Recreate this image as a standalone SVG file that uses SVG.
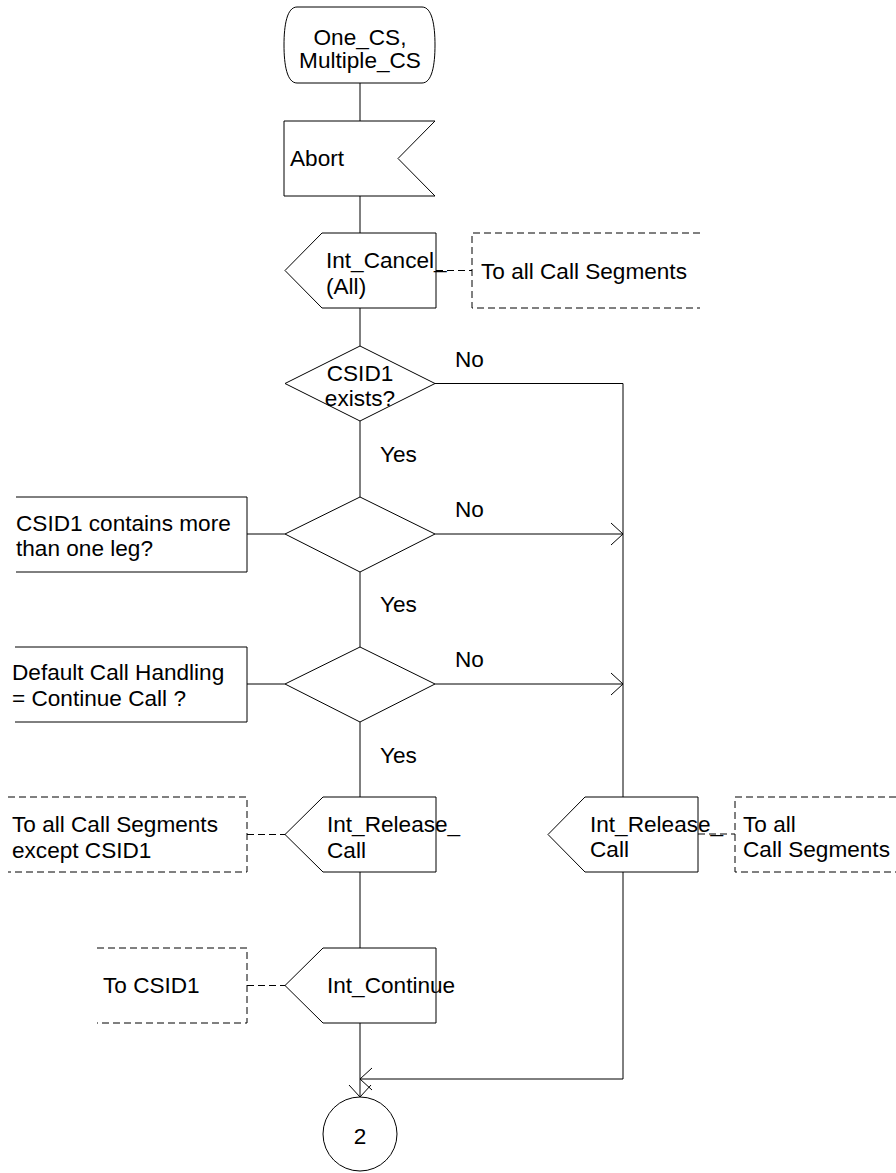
<svg xmlns="http://www.w3.org/2000/svg" width="896" height="1173" viewBox="0 0 896 1173">
<style>
  .s{fill:#fff;stroke:#000;stroke-width:1}
  .l{fill:none;stroke:#000;stroke-width:1}
  .d{fill:none;stroke:#000;stroke-width:1;stroke-dasharray:7 4}
  text{font-family:"Liberation Sans",Arial,sans-serif;font-size:22.6px;fill:#000}
  .c{text-anchor:middle}
</style>
<defs>
  <marker id="arr" viewBox="-13 -12 14 24" refX="0" refY="0" markerWidth="14" markerHeight="24" markerUnits="userSpaceOnUse" orient="auto">
    <path d="M-12,-11 L0,0 L-12,11" fill="none" stroke="#000" stroke-width="1"/>
  </marker>
</defs>
<rect width="896" height="1173" fill="#fff"/>
<g id="connectors">
  <line class="l" x1="360" y1="83" x2="360" y2="121"/>
  <line class="l" x1="360" y1="196" x2="360" y2="233"/>
  <line class="l" x1="360" y1="308" x2="360" y2="346"/>
  <line class="l" x1="360" y1="421" x2="360" y2="497"/>
  <line class="l" x1="360" y1="572" x2="360" y2="647"/>
  <line class="l" x1="360" y1="722" x2="360" y2="797"/>
  <line class="l" x1="360" y1="872" x2="360" y2="948"/>
  <line class="l" x1="360" y1="1023" x2="360" y2="1097" marker-end="url(#arr)"/>
  <polyline class="l" points="435,383.5 623,383.5 623,797"/>
  <polyline class="l" points="623,872 623,1079 360,1079" marker-end="url(#arr)"/>
  <line class="l" x1="435" y1="534" x2="623" y2="534" marker-end="url(#arr)"/>
  <line class="l" x1="435" y1="684" x2="623" y2="684" marker-end="url(#arr)"/>
  <line class="l" x1="247" y1="534" x2="285" y2="534"/>
  <line class="l" x1="247" y1="684" x2="285" y2="684"/>
  <line class="d" x1="436" y1="270.5" x2="472" y2="270.5"/>
  <line class="d" x1="247" y1="834.5" x2="285" y2="834.5"/>
  <line class="d" x1="247" y1="985.5" x2="285" y2="985.5"/>
  <line class="d" x1="698" y1="834" x2="735" y2="834"/>
  <text x="455" y="367">No</text>
  <text x="380" y="462">Yes</text>
  <text x="455" y="517">No</text>
  <text x="380" y="612">Yes</text>
  <text x="455" y="667">No</text>
  <text x="380" y="763">Yes</text>
</g>
<g id="start">
  <path class="s" d="M297,7 H422 C432,7 435,25 435,45 C435,65 432,83 422,83 H297 C287,83 284,65 284,45 C284,25 287,7 297,7 Z"/>
  <text class="c" x="360" y="45">One_CS,</text>
  <text class="c" x="360" y="68">Multiple_CS</text>
</g>
<g id="abort">
  <path class="s" d="M284,121 H435 L398,158.5 L435,196 H284 Z"/>
  <text x="290" y="166">Abort</text>
</g>
<g id="int_cancel">
  <path class="s" d="M322,233 H436 V308 H322 L285,270.5 Z"/>
  <text x="326" y="268">Int_Cancel_</text>
  <text x="326" y="294">(All)</text>
</g>
<g id="comment_cancel">
  <path class="d" d="M700,233 H472 V308 H700"/>
  <text x="481" y="279">To all Call Segments</text>
</g>
<g id="dec1">
  <path class="s" d="M360,346 L435,383.5 L360,421 L285,383.5 Z"/>
  <text class="c" x="360" y="381">CSID1</text>
  <text class="c" x="360" y="406">exists?</text>
</g>
<g id="dec2">
  <path class="s" d="M360,497 L435,534 L360,572 L285,534 Z"/>
</g>
<g id="text_dec2">
  <path class="l" d="M16,497 H247 V572 H16"/>
  <text x="16" y="531">CSID1 contains more</text>
  <text x="16" y="556">than one leg?</text>
</g>
<g id="dec3">
  <path class="s" d="M360,647 L435,684 L360,722 L285,684 Z"/>
</g>
<g id="text_dec3">
  <path class="l" d="M15,647 H247 V722 H15"/>
  <text x="12" y="680">Default Call Handling</text>
  <text x="12" y="706">= Continue Call ?</text>
</g>
<g id="int_release_left">
  <path class="s" d="M323,797 H436 V872 H323 L285,834.5 Z"/>
  <text x="327" y="832">Int_Release_</text>
  <text x="327" y="858">Call</text>
</g>
<g id="comment_release_left">
  <path class="d" d="M8,797 H247 V872 H8"/>
  <text x="12" y="832">To all Call Segments</text>
  <text x="12" y="858">except CSID1</text>
</g>
<g id="int_continue">
  <path class="s" d="M323,948 H436 V1023 H323 L285,985.5 Z"/>
  <text x="327" y="993">Int_Continue</text>
</g>
<g id="comment_continue">
  <path class="d" d="M97,948 H247 V1023 H97"/>
  <text x="103" y="993">To CSID1</text>
</g>
<g id="int_release_right">
  <path class="s" d="M585,797 H698 V872 H585 L548,834.5 Z"/>
  <text x="590" y="832">Int_Release_</text>
  <text x="590" y="857">Call</text>
</g>
<g id="comment_release_right">
  <path class="d" d="M896,797 H735 V872 H896"/>
  <text x="743" y="832">To all</text>
  <text x="743" y="857">Call Segments</text>
</g>
<g id="connector_2">
  <circle class="s" cx="360" cy="1134" r="37"/>
  <text class="c" x="360" y="1144">2</text>
</g>
</svg>
